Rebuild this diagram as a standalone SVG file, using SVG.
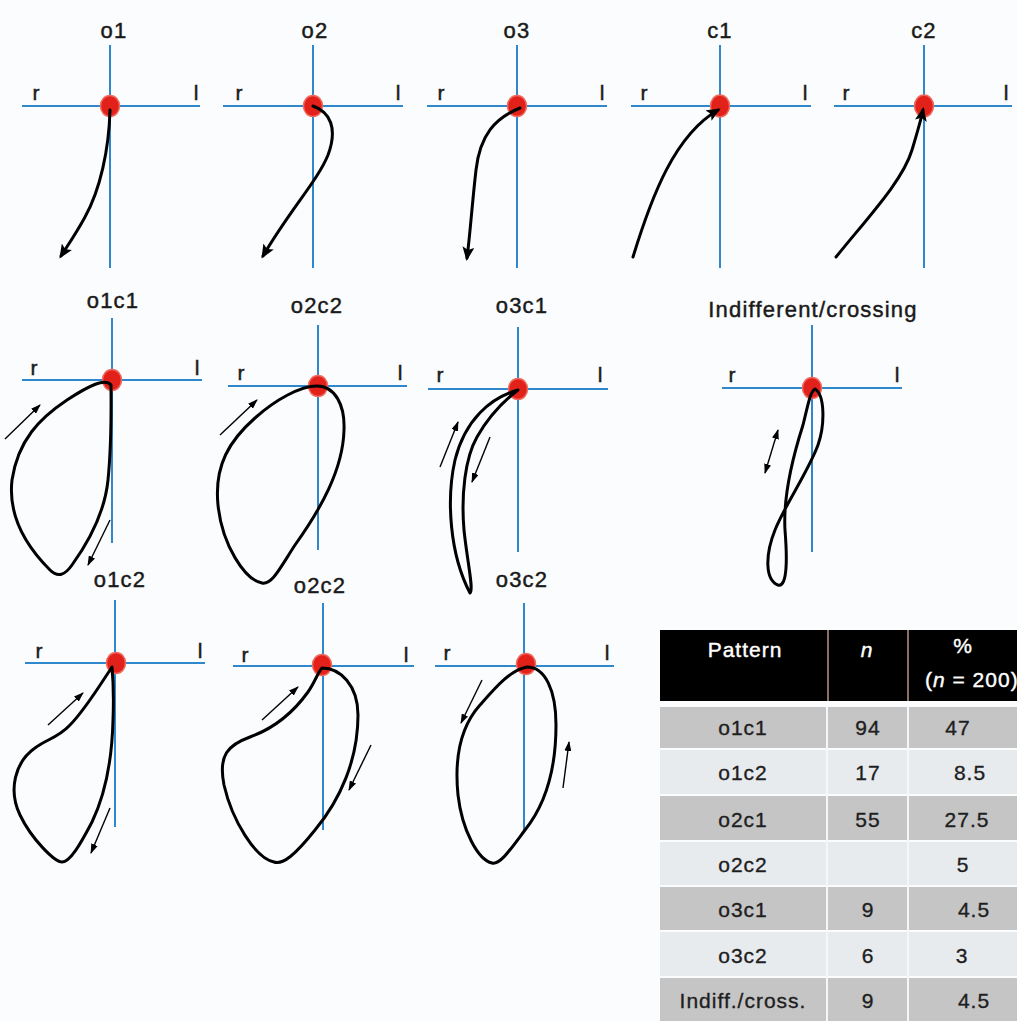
<svg xmlns="http://www.w3.org/2000/svg" width="1017" height="1021" viewBox="0 0 1017 1021">
<defs>
<style>
.ax{stroke:#2f88cc;stroke-width:2;fill:none}
.dot{fill:#e3211b;stroke:#ee6a5e;stroke-width:1.5}
.cv{stroke:#000;stroke-width:3;fill:none;stroke-linejoin:round;stroke-linecap:round}
.ar{stroke:#000;stroke-width:1.4;fill:none}
.lb{font-family:"Liberation Sans",Arial,sans-serif;font-size:22px;fill:#1a1a1a;stroke:#1a1a1a;stroke-width:0.45;letter-spacing:1.2px;text-anchor:middle}
.rl{font-family:"Liberation Sans",Arial,sans-serif;font-size:21px;fill:#1a1a1a;stroke:#1a1a1a;stroke-width:0.45;text-anchor:middle}
.tt{font-family:"Liberation Sans",Arial,sans-serif;font-size:21px;fill:#1e1e1e;stroke:#1e1e1e;stroke-width:0.35;letter-spacing:1px;text-anchor:middle}
.th{font-family:"Liberation Sans",Arial,sans-serif;font-size:21px;fill:#fff;stroke:#fff;stroke-width:0.4;letter-spacing:1px;text-anchor:middle}
.dk{fill:#c5c5c5}
.lt{fill:#e8ebee}
</style>
<marker id="hd" viewBox="0 0 14 12" refX="11" refY="6" markerWidth="14" markerHeight="12" markerUnits="userSpaceOnUse" orient="auto"><path d="M0,0 L14,6 L0,12 L3,6 z" fill="#000"/></marker>
<marker id="sh" viewBox="0 0 10 7" refX="9" refY="3.5" markerWidth="10" markerHeight="7" markerUnits="userSpaceOnUse" orient="auto-start-reverse"><path d="M0,0 L10,3.5 L0,7 z" fill="#000"/></marker>
</defs>
<rect width="1017" height="1021" fill="#fafcfd"/>

<!-- Top row -->
<g id="o1">
<line class="ax" x1="110" y1="45" x2="110" y2="268"/><line class="ax" x1="22" y1="106" x2="200" y2="106"/>
<ellipse class="dot" cx="110" cy="106" rx="9.5" ry="10.5"/>
<text class="lb" x="114" y="38">o1</text><text class="rl" x="36" y="100">r</text><text class="rl" x="196" y="100">l</text>
<path class="cv" marker-end="url(#hd)" d="M110,110 C109,150 100,190 85,217 C77,232 68,245 61,256"/>
</g>
<g id="o2">
<line class="ax" x1="313" y1="45" x2="313" y2="268"/><line class="ax" x1="223" y1="106" x2="403" y2="106"/>
<ellipse class="dot" cx="313" cy="106" rx="9.5" ry="10.5"/>
<text class="lb" x="315" y="38">o2</text><text class="rl" x="239" y="100">r</text><text class="rl" x="398" y="100">l</text>
<path class="cv" marker-end="url(#hd)" d="M313,106 C330,112 338,128 328,155 C318,180 290,210 263,256"/>
</g>
<g id="o3">
<line class="ax" x1="517" y1="45" x2="517" y2="268"/><line class="ax" x1="427" y1="106" x2="607" y2="106"/>
<ellipse class="dot" cx="517" cy="106" rx="9.5" ry="10.5"/>
<text class="lb" x="517" y="38">o3</text><text class="rl" x="441" y="100">r</text><text class="rl" x="602" y="100">l</text>
<path class="cv" marker-end="url(#hd)" d="M520,108 C495,118 480,135 476,170 C472,205 470,235 467,258"/>
</g>
<g id="c1">
<line class="ax" x1="720" y1="45" x2="720" y2="268"/><line class="ax" x1="631" y1="106" x2="811" y2="106"/>
<ellipse class="dot" cx="720" cy="106" rx="9.5" ry="11"/>
<text class="lb" x="720" y="38">c1</text><text class="rl" x="644" y="100">r</text><text class="rl" x="805" y="100">l</text>
<path class="cv" marker-end="url(#hd)" d="M633,257 C652,195 675,135 718,110"/>
</g>
<g id="c2">
<line class="ax" x1="924" y1="45" x2="924" y2="268"/><line class="ax" x1="834" y1="106" x2="1012" y2="106"/>
<ellipse class="dot" cx="924" cy="106" rx="9.5" ry="11"/>
<text class="lb" x="924" y="38">c2</text><text class="rl" x="846" y="100">r</text><text class="rl" x="1006" y="100">l</text>
<path class="cv" marker-end="url(#hd)" d="M836,257 C870,215 903,180 912,150 C918,130 921,120 923,110"/>
</g>

<!-- Middle row -->
<g id="o1c1">
<line class="ax" x1="112" y1="318" x2="112" y2="543"/><line class="ax" x1="22" y1="380" x2="202" y2="380"/>
<ellipse class="dot" cx="112" cy="380" rx="9.5" ry="10.5"/>
<text class="lb" x="113" y="308">o1c1</text><text class="rl" x="34" y="375">r</text><text class="rl" x="197" y="375">l</text>
<path class="cv" d="M111,385 C105,378 90,385 67,400 C40,418 18,440 12,480 C8,515 25,545 50,570 C58,578 65,575 72,565 C90,540 105,510 108,480 C112,440 111,400 111,385 Z"/>
<line class="ar" marker-end="url(#sh)" x1="5" y1="439" x2="40" y2="405"/>
<line class="ar" marker-end="url(#sh)" x1="110" y1="520" x2="88" y2="565"/>
</g>
<g id="o2c2-a">
<line class="ax" x1="318" y1="325" x2="318" y2="550"/><line class="ax" x1="228" y1="386" x2="407" y2="386"/>
<ellipse class="dot" cx="318" cy="386" rx="9.5" ry="10.5"/>
<text class="lb" x="317" y="313">o2c2</text><text class="rl" x="241" y="380">r</text><text class="rl" x="400" y="380">l</text>
<path class="cv" d="M317,386 C335,386 345,405 344,430 C343,470 320,510 295,545 C280,568 272,585 262,583 C245,580 222,545 218,505 C214,465 230,440 255,418 C275,400 300,386 317,386 Z"/>
<line class="ar" marker-end="url(#sh)" x1="220" y1="435" x2="257" y2="400"/>
</g>
<g id="o3c1">
<line class="ax" x1="518" y1="327" x2="518" y2="552"/><line class="ax" x1="428" y1="389" x2="608" y2="389"/>
<ellipse class="dot" cx="518" cy="389" rx="9.5" ry="10.5"/>
<text class="lb" x="522" y="313">o3c1</text><text class="rl" x="440" y="382">r</text><text class="rl" x="600" y="382">l</text>
<path class="cv" stroke-width="2.6" d="M518,390 C490,398 465,420 455,460 C446,500 450,555 470,593 C474,590 467,560 464,530 C461,495 465,458 477,437 C489,416 505,400 518,390 Z"/>
<line class="ar" marker-end="url(#sh)" x1="440" y1="467" x2="458" y2="422"/>
<line class="ar" marker-end="url(#sh)" x1="490" y1="437" x2="472" y2="482"/>
</g>
<g id="indifferent">
<line class="ax" x1="812" y1="325" x2="812" y2="552"/><line class="ax" x1="722" y1="388" x2="902" y2="388"/>
<ellipse class="dot" cx="812" cy="388" rx="9.5" ry="10.5"/>
<text class="lb" x="813" y="317">Indifferent/crossing</text><text class="rl" x="732" y="382">r</text><text class="rl" x="897" y="382">l</text>
<path class="cv" d="M815,389 C825,395 825,425 818,445 C808,472 785,505 775,530 C765,555 765,580 778,585 C788,588 787,555 785,530 C783,495 795,450 803,425 C808,405 810,392 815,389 Z"/>
<line class="ar" marker-start="url(#sh)" marker-end="url(#sh)" x1="778" y1="430" x2="765" y2="473"/>
</g>

<!-- Bottom row -->
<g id="o1c2">
<line class="ax" x1="115" y1="600" x2="115" y2="827"/><line class="ax" x1="25" y1="663" x2="205" y2="663"/>
<ellipse class="dot" cx="116" cy="663" rx="9.5" ry="10.5"/>
<text class="lb" x="120" y="587">o1c2</text><text class="rl" x="39" y="658">r</text><text class="rl" x="200" y="658">l</text>
<path class="cv" d="M112,667 C100,685 85,710 70,725 C58,738 45,740 35,748 C15,762 8,790 20,815 C32,840 55,862 62,862 C70,862 80,845 92,822 C105,795 112,760 113,720 C114,695 113,678 112,667 Z"/>
<line class="ar" marker-end="url(#sh)" x1="48" y1="725" x2="83" y2="693"/>
<line class="ar" marker-end="url(#sh)" x1="110" y1="808" x2="91" y2="853"/>
</g>
<g id="o2c2-b">
<line class="ax" x1="323" y1="603" x2="323" y2="830"/><line class="ax" x1="233" y1="666" x2="414" y2="666"/>
<ellipse class="dot" cx="322" cy="665" rx="9.5" ry="10.5"/>
<text class="lb" x="320" y="593">o2c2</text><text class="rl" x="245" y="662">r</text><text class="rl" x="406" y="662">l</text>
<path class="cv" d="M322,668 C340,668 358,685 358,715 C358,760 340,800 315,830 C295,855 283,865 274,862 C255,858 232,820 224,785 C218,755 228,745 250,737 C275,728 295,710 308,692 C315,682 318,672 322,668 Z"/>
<line class="ar" marker-end="url(#sh)" x1="262" y1="720" x2="298" y2="687"/>
<line class="ar" marker-end="url(#sh)" x1="371" y1="745" x2="349" y2="790"/>
</g>
<g id="o3c2">
<line class="ax" x1="524" y1="603" x2="524" y2="830"/><line class="ax" x1="435" y1="666" x2="614" y2="666"/>
<ellipse class="dot" cx="526" cy="664" rx="9.5" ry="10.5"/>
<text class="lb" x="522" y="587">o3c2</text><text class="rl" x="447" y="660">r</text><text class="rl" x="607" y="660">l</text>
<path class="cv" d="M527,667 C545,667 556,690 556,725 C556,770 545,805 525,830 C510,850 500,865 492,863 C478,860 462,830 458,795 C454,755 462,725 480,705 C495,688 510,670 527,667 Z"/>
<line class="ar" marker-end="url(#sh)" x1="482" y1="680" x2="461" y2="723"/>
<line class="ar" marker-end="url(#sh)" x1="563" y1="788" x2="569" y2="742"/>
</g>

<!-- Table -->
<g id="table">
<rect x="660" y="630" width="357" height="71" fill="#000"/>
<line x1="828" y1="630" x2="828" y2="701" stroke="#b89484" stroke-width="1.5"/>
<line x1="908" y1="630" x2="908" y2="701" stroke="#b89484" stroke-width="1.5"/>
<text class="th" x="745" y="657">Pattern</text>
<text class="th" x="867" y="657" font-style="italic">n</text>
<text class="th" x="963" y="653">%</text>
<text class="th" x="925" y="687" style="text-anchor:start">(<tspan font-style="italic">n</tspan> = 200)</text>
<rect class="dk" x="660" y="707" width="357" height="41"/>
<rect class="lt" x="660" y="750" width="357" height="44"/>
<rect class="dk" x="660" y="796" width="357" height="44"/>
<rect class="lt" x="660" y="842" width="357" height="43"/>
<rect class="dk" x="660" y="887" width="357" height="43"/>
<rect class="lt" x="660" y="932" width="357" height="44"/>
<rect class="dk" x="660" y="978" width="357" height="43"/>
<line x1="827" y1="707" x2="827" y2="1021" stroke="#f4f6f8" stroke-width="2"/>
<line x1="908" y1="707" x2="908" y2="1021" stroke="#f4f6f8" stroke-width="2"/>
<text class="tt" x="743" y="735">o1c1</text><text class="tt" x="868" y="735" stroke-width="0.8">94</text><text class="tt" x="958" y="735">47</text>
<text class="tt" x="743" y="780">o1c2</text><text class="tt" x="868" y="780">17</text><text class="tt" x="970" y="780">8.5</text>
<text class="tt" x="743" y="827">o2c1</text><text class="tt" x="868" y="827">55</text><text class="tt" x="967" y="827">27.5</text>
<text class="tt" x="743" y="872">o2c2</text><text class="tt" x="963" y="872">5</text>
<text class="tt" x="743" y="917">o3c1</text><text class="tt" x="868" y="917">9</text><text class="tt" x="974" y="917">4.5</text>
<text class="tt" x="743" y="963">o3c2</text><text class="tt" x="868" y="963">6</text><text class="tt" x="962" y="963">3</text>
<text class="tt" x="743" y="1008">Indiff./cross.</text><text class="tt" x="868" y="1008">9</text><text class="tt" x="974" y="1008">4.5</text>
</g>
</svg>
